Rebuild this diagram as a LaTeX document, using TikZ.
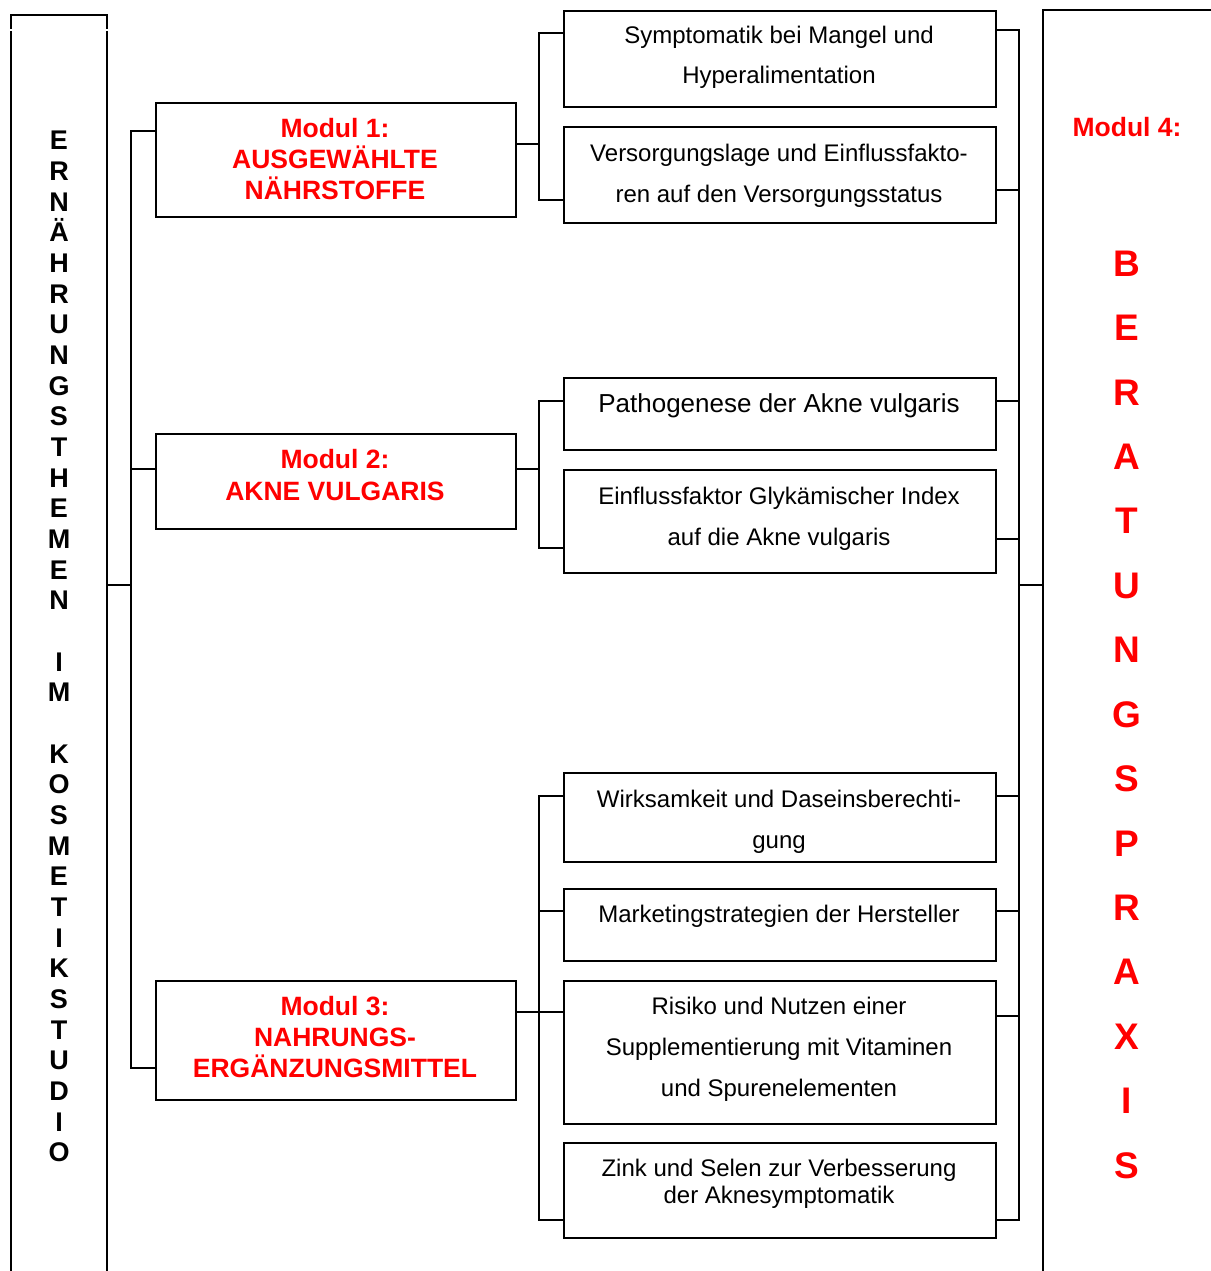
\documentclass[tikz,border=0pt]{standalone}
\usepackage{fontspec}
\setmainfont{Liberation Sans}
\definecolor{modred}{RGB}{255,0,0}
\begin{document}
\begin{tikzpicture}[x=1pt,y=-1pt,
  box/.style={draw, line width=1.7pt, anchor=north west, inner sep=0pt},
  wire/.style={line width=1.7pt},
  sub/.style={font=\fontsize{24}{24}\selectfont, anchor=base, inner sep=0pt},
  subbig/.style={font=\fontsize{26}{26}\selectfont, anchor=base, inner sep=0pt},
  mod/.style={font=\fontsize{26.5}{26.5}\selectfont\bfseries, text=modred, anchor=base, inner sep=0pt},
  sideletter/.style={font=\fontsize{27}{27}\selectfont\bfseries, anchor=base, inner sep=0pt},
  bigletter/.style={font=\fontsize{37}{37}\selectfont\bfseries, text=modred, anchor=base, inner sep=0pt}]
\useasboundingbox (0,0) rectangle (1210,1271);

% left column frame (open at the bottom)
\draw[wire] (11,29) -- (11,15) -- (107,15) -- (107,29);
\draw[wire] (11,31) -- (11,1275);
\draw[wire] (107,31) -- (107,1275);
% right column frame (open at right and bottom)
\draw[wire] (1043,1275) -- (1043,10) -- (1215,10);

% left column lettering
\foreach \i/\ch in {0/E,1/R,2/N,3/Ä,4/H,5/R,6/U,7/N,8/G,9/S,10/T,11/H,12/E,13/M,14/E,15/N,
                    17/I,18/M,
                    20/K,21/O,22/S,23/M,24/E,25/T,26/I,27/K,28/S,29/T,30/U,31/D,32/I,33/O}
  \node[sideletter] (lt\i) at (59,{149.7+30.67*\i}) {\ch};

% right column lettering
\node[mod] (m4) at (1127,137) {Modul 4:};
\foreach \i/\ch in {0/B,1/E,2/R,3/A,4/T,5/U,6/N,7/G,8/S,9/P,10/R,11/A,12/X,13/I,14/S}
  \node[bigletter] (rt\i) at (1127,{276.2+64.43*\i}) {\ch};

% module boxes
\node[box, minimum width=360, minimum height=114] (m1) at (155,102) {};
\node[box, minimum width=360, minimum height=95]  (m2) at (155,433) {};
\node[box, minimum width=360, minimum height=119] (m3) at (155,980) {};

\node[mod] (m1a) at (335,138) {Modul 1:};
\node[mod] (m1b) at (335,168) {AUSGEWÄHLTE};
\node[mod] (m1c) at (335,199) {NÄHRSTOFFE};
\node[mod] (m2a) at (335,468) {Modul 2:};
\node[mod] (m2b) at (335,500) {AKNE VULGARIS};
\node[mod] (m3a) at (335,1015) {Modul 3:};
\node[mod] (m3b) at (335,1046) {NAHRUNGS-};
\node[mod] (m3c) at (335,1077) {ERGÄNZUNGSMITTEL};

% topic boxes
\node[box, minimum width=432, minimum height=96]  (s1) at (563,10) {};
\node[box, minimum width=432, minimum height=96]  (s2) at (563,126) {};
\node[box, minimum width=432, minimum height=72]  (s3) at (563,377) {};
\node[box, minimum width=432, minimum height=103] (s4) at (563,469) {};
\node[box, minimum width=432, minimum height=89]  (s5) at (563,772) {};
\node[box, minimum width=432, minimum height=72]  (s6) at (563,888) {};
\node[box, minimum width=432, minimum height=143] (s7) at (563,980) {};
\node[box, minimum width=432, minimum height=95]  (s8) at (563,1142) {};

\node[sub] (s1a) at (779,44)  {Symptomatik bei Mangel und};
\node[sub] (s1b) at (779,84)  {Hyperalimentation};
\node[sub] (s2a) at (779,161) {Versorgungslage und Einflussfakto-};
\node[sub] (s2b) at (779,202) {ren auf den Versorgungsstatus};
\node[subbig] (s3a) at (779,412) {Pathogenese der Akne vulgaris};
\node[sub] (s4a) at (779,504) {Einflussfaktor Glykämischer Index};
\node[sub] (s4b) at (779,545) {auf die Akne vulgaris};
\node[sub] (s5a) at (779,807) {Wirksamkeit und Daseinsberechti-};
\node[sub] (s5b) at (779,848) {gung};
\node[sub] (s6a) at (779,922) {Marketingstrategien der Hersteller};
\node[sub] (s7a) at (779,1014) {Risiko und Nutzen einer};
\node[sub] (s7b) at (779,1055) {Supplementierung mit Vitaminen};
\node[sub] (s7c) at (779,1096) {und Spurenelementen};
\node[sub] (s8a) at (779,1176) {Zink und Selen zur Verbesserung};
\node[sub] (s8b) at (779,1203) {der Aknesymptomatik};

% junction points
\coordinate (lj) at (107,585);
\coordinate (rj) at (1043,585);
\coordinate (lb1) at (131,131);
\coordinate (lb2) at (131,469);
\coordinate (lb3) at (131,1068);
\coordinate (lbm) at (131,585);

% left bus to the modules
\draw[wire] (lj) -- (lbm);
\draw[wire] (m1.west |- lb1) -- (lb1) -- (lb3) -- (m3.west |- lb3);
\draw[wire] (lb2) -- (m2.west |- lb2);

% module 1 to its topics
\coordinate (a1) at (539,144);
\coordinate (a1t) at (539,33);
\coordinate (a1b) at (539,200);
\draw[wire] (m1.east |- a1) -- (a1);
\draw[wire] (s1.west |- a1t) -- (a1t) -- (a1b) -- (s2.west |- a1b);

% module 2 to its topics
\coordinate (a2) at (539,469);
\coordinate (a2t) at (539,401);
\coordinate (a2b) at (539,548);
\draw[wire] (m2.east |- a2) -- (a2);
\draw[wire] (s3.west |- a2t) -- (a2t) -- (a2b) -- (s4.west |- a2b);

% module 3 to its topics
\coordinate (a3) at (539,1012);
\coordinate (a3t) at (539,796);
\coordinate (a3m) at (539,911);
\coordinate (a3b) at (539,1220);
\draw[wire] (m3.east |- a3) -- (s7.west |- a3);
\draw[wire] (s5.west |- a3t) -- (a3t) -- (a3b) -- (s8.west |- a3b);
\draw[wire] (a3m) -- (s6.west |- a3m);

% topics to the right bus
\coordinate (rb1) at (1019,30);
\coordinate (rb8) at (1019,1220);
\coordinate (rbm) at (1019,585);
\draw[wire] (s1.east |- rb1) -- (rb1) -- (rb8) -- (s8.east |- rb8);
\foreach \s/\y in {s2/190,s3/401,s4/539,s5/796,s6/911,s7/1016}
  \draw[wire] (\s.east |- 0,\y) -- (1019,\y);
\draw[wire] (rbm) -- (rj);
\end{tikzpicture}
\end{document}
